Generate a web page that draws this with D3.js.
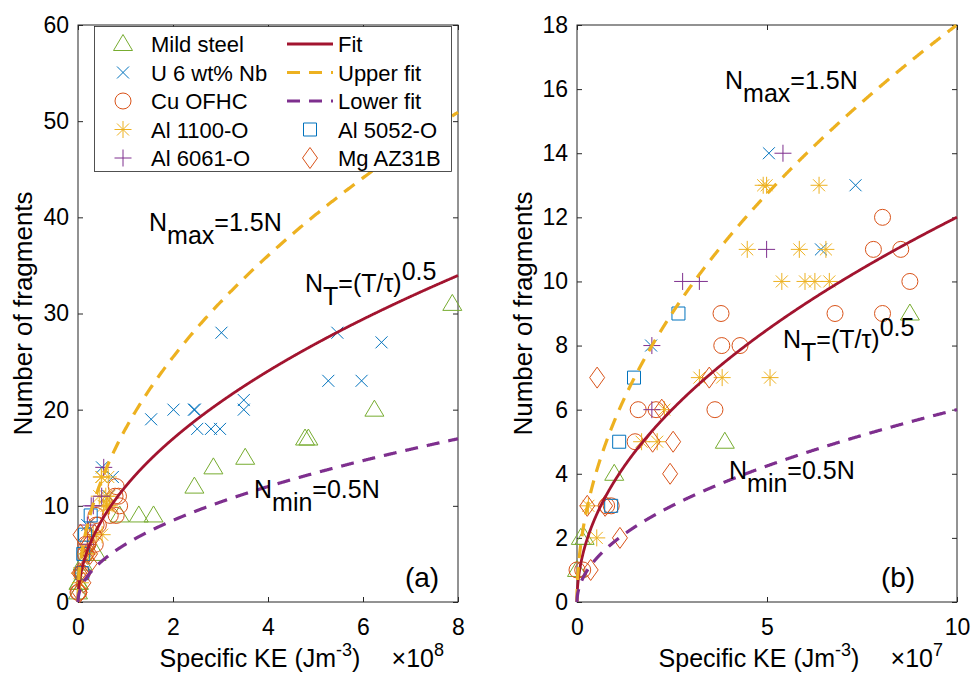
<!DOCTYPE html>
<html>
<head>
<meta http-equiv="Content-Type" content="text/html;charset=utf-8">
<title>fragments vs specific KE</title>
<script src="https://cdn.jsdelivr.net/npm/d3@7"></script>
<style>
body { margin: 0; background: #fff; }
text { font-family: "Liberation Sans", Arial, Helvetica, sans-serif; fill: #000; }
</style>
</head>
<body>
<svg id="chart" width="979" height="682"></svg>
<script>
// specific KE in units of 1e7 J/m^3, number of fragments
var mildX = [0.0, 0.1, 0.2, 0.98, 3.89, 8.76, 12.8, 15.9, 24.5, 28.5, 35.2, 47.8, 48.5, 62.4, 78.8];
var mildN = [1, 2, 2, 4, 5, 9, 9, 9, 12, 14, 15, 17, 17, 20, 31];
var u6X = [1.95, 5.05, 6.42, 7.33, 15.4, 20.1, 24.4, 24.6, 25.1, 28.0, 29.9, 30.2, 34.9, 34.9, 52.7, 54.6, 59.7, 63.9];
var u6N = [8, 14, 11, 13, 19, 20, 20, 20, 18, 18, 18, 28, 21, 20, 23, 28, 23, 27];
var cuX = [0.0, 0.15, 0.78, 0.9, 1.53, 1.61, 2.08, 3.63, 3.81, 4.29, 3.79, 6.79, 8.04, 8.76, 7.8, 8.52, 8.04];
var cuN = [1, 1, 3, 3, 5, 6, 6, 6, 8, 8, 9, 9, 9, 10, 11, 11, 12];
var al1100X = [0.3, 0.52, 1.7, 2.11, 2.3, 3.22, 3.82, 5.08, 5.39, 6.0, 6.26, 6.64, 4.48, 5.85, 6.55, 4.9, 4.99, 6.37];
var al1100N = [3, 2, 5, 5, 6, 7, 7, 7, 10, 10, 10, 10, 11, 11, 11, 13, 13, 13];
var al6061X = [1.97, 1.97, 2.78, 3.22, 4.99, 5.42];
var al6061N = [6, 8, 10, 10, 11, 14];
var al5052X = [0.9, 1.11, 1.5, 2.67];
var al5052N = [3, 5, 7, 9];
var mgX = [0.36, 0.27, 0.74, 1.13, 2.45, 1.99, 2.53, 2.23, 0.53, 3.48];
var mgN = [1, 3, 3, 2, 4, 5, 5, 6, 7, 7];

// fit N_T = (T/tau)^0.5, tau in the same 1e7 J/m^3 units
var tau = 0.0694;
var upperK = 1.5, lowerK = 0.5;

var leftXTicks = [0, 20, 40, 60, 80];
var leftYTicks = [0, 10, 20, 30, 40, 50, 60];
var rightXTicks = [0, 5, 10];
var rightYTicks = [0, 2, 4, 6, 8, 10, 12, 14, 16, 18];

var series = [
  {name: "Mild steel", xs: mildX, ns: mildN, shape: "tri", color: "#77AC30"},
  {name: "U 6 wt% Nb", xs: u6X, ns: u6N, shape: "x", color: "#0072BD"},
  {name: "Cu OFHC", xs: cuX, ns: cuN, shape: "circle", color: "#D95319"},
  {name: "Al 1100-O", xs: al1100X, ns: al1100N, shape: "star", color: "#EDB120"},
  {name: "Al 6061-O", xs: al6061X, ns: al6061N, shape: "plus", color: "#7E2F8E"},
  {name: "Al 5052-O", xs: al5052X, ns: al5052N, shape: "square", color: "#0072BD"},
  {name: "Mg AZ31B", xs: mgX, ns: mgN, shape: "diamond", color: "#D95319"}
];

var svg = d3.select("#chart");

function markerPath(shape) {
  switch (shape) {
    case "tri": return "M0,-9.5L9.5,6.5L-9.5,6.5Z";
    case "x": return "M-6,-6L6,6M-6,6L6,-6";
    case "circle": return "M8,0A8,8 0 1,1 -8,0A8,8 0 1,1 8,0Z";
    case "star": return "M0,-8.5V8.5M-8.5,0H8.5M-6,-6L6,6M-6,6L6,-6";
    case "plus": return "M0,-8.5V8.5M-8.5,0H8.5";
    case "square": return "M-6.5,-6.5H6.5V6.5H-6.5Z";
    case "diamond": return "M0,-10.5L7.5,0L0,10.5L-7.5,0Z";
  }
}

function drawPanel(opt) {
  var x = d3.scaleLinear().domain(opt.xDomain).range([opt.left, opt.right]);
  var y = d3.scaleLinear().domain(opt.yDomain).range([opt.bottom, opt.top]);
  var g = svg.append("g");
  var clipId = "clip" + opt.id;
  svg.append("clipPath").attr("id", clipId).append("rect")
    .attr("x", opt.left - 12).attr("y", opt.top - 12)
    .attr("width", opt.right - opt.left + 24).attr("height", opt.bottom - opt.top + 24);

  // ticks (inside, mirrored)
  var tl = 5;
  var axB = g.append("g").attr("transform", "translate(0," + opt.bottom + ")")
    .call(d3.axisBottom(x).tickValues(opt.xTicks).tickSize(-tl).tickPadding(17).tickFormat(opt.xFmt));
  var axT = g.append("g").attr("transform", "translate(0," + opt.top + ")")
    .call(d3.axisTop(x).tickValues(opt.xTicks).tickSize(-tl).tickFormat(""));
  var axL = g.append("g").attr("transform", "translate(" + opt.left + ",0)")
    .call(d3.axisLeft(y).tickValues(opt.yTicks).tickSize(-tl).tickPadding(9));
  var axR = g.append("g").attr("transform", "translate(" + opt.right + ",0)")
    .call(d3.axisRight(y).tickValues(opt.yTicks).tickSize(-tl).tickFormat(""));
  [axB, axT, axL, axR].forEach(function(a) {
    a.select(".domain").remove();
    a.selectAll(".tick line").attr("stroke", "#262626").attr("stroke-width", 1);
    a.selectAll("text").style("font-size", "23px").attr("fill", "#000");
  });
  g.append("rect").attr("x", opt.left).attr("y", opt.top)
    .attr("width", opt.right - opt.left).attr("height", opt.bottom - opt.top)
    .attr("fill", "none").attr("stroke", "#262626").attr("stroke-width", 1);

  // markers
  var mg = g.append("g").attr("clip-path", "url(#" + clipId + ")");
  series.forEach(function(s) {
    var pts = s.xs.map(function(v, i) { return [v, s.ns[i]]; })
      .filter(function(p) { return p[0] <= opt.xDomain[1]; });
    mg.selectAll(null).data(pts).enter().append("path")
      .attr("d", markerPath(s.shape))
      .attr("transform", function(p) { return "translate(" + x(p[0]) + "," + y(p[1]) + ")"; })
      .attr("fill", "none").attr("stroke", s.color).attr("stroke-width", 1);
  });

  // fit curves
  var xs = d3.range(0, 1001).map(function(i) { return opt.xDomain[1] * Math.pow(i / 1000, 2); });
  var curves = [
    {k: 1, color: "#A2142F", dash: null, w: 2.8},
    {k: upperK, color: "#EDB120", dash: "13,9", w: 3.2},
    {k: lowerK, color: "#7E2F8E", dash: "13,9", w: 3.2}
  ];
  var lg = g.append("g").attr("clip-path", "url(#" + clipId + ")");
  curves.forEach(function(c) {
    var line = d3.line()
      .x(function(v) { return x(v); })
      .y(function(v) { return y(c.k * Math.sqrt(v / tau)); });
    var pts = xs.filter(function(v) { return c.k * Math.sqrt(v / tau) <= opt.yDomain[1]; });
    lg.append("path").datum(pts).attr("d", line)
      .attr("fill", "none").attr("stroke", c.color).attr("stroke-width", c.w)
      .attr("stroke-dasharray", c.dash);
  });

  // axis titles
  var mid = (opt.left + opt.right) / 2;
  var xl = g.append("text").attr("x", mid - 8).attr("y", 667).attr("text-anchor", "middle")
    .style("font-size", "25px");
  xl.append("tspan").text("Specific KE (Jm");
  xl.append("tspan").attr("dy", -11).style("font-size", "18px").text("-3");
  xl.append("tspan").attr("dy", 11).text(")");
  var xm = g.append("text").attr("x", opt.right - 14).attr("y", 667).attr("text-anchor", "end")
    .style("font-size", "25px");
  xm.append("tspan").text("\u00d710");
  xm.append("tspan").attr("dy", -11).style("font-size", "18px").text(opt.exp);

  g.append("text").attr("transform", "translate(" + opt.yLabelX + "," + ((opt.top + opt.bottom) / 2) + ") rotate(-90)")
    .attr("text-anchor", "middle").style("font-size", "26px").text("Number of fragments");

  g.append("text").attr("x", opt.tagX).attr("y", 587).attr("text-anchor", "middle")
    .style("font-size", "28px").text(opt.tag);

  return {x: x, y: y, g: g};
}

function subText(g, px, py, main, sub, rest, sup) {
  var t = g.append("text").attr("x", px).attr("y", py).style("font-size", "25px");
  t.append("tspan").text(main);
  t.append("tspan").attr("dy", 13).text(sub);
  t.append("tspan").attr("dy", -13).text(rest);
  if (sup) t.append("tspan").attr("dy", -12).text(sup);
}

var L = drawPanel({id: "a", left: 78, right: 458, top: 25, bottom: 602,
  xDomain: [0, 80], yDomain: [0, 60], xTicks: leftXTicks, yTicks: leftYTicks,
  xFmt: function(d) { return d / 10; }, exp: "8",
  yLabelX: 32, tag: "(a)", tagX: 422});
var R = drawPanel({id: "b", left: 577, right: 957, top: 25, bottom: 602,
  xDomain: [0, 10], yDomain: [0, 18], xTicks: rightXTicks, yTicks: rightYTicks,
  xFmt: function(d) { return d; }, exp: "7",
  yLabelX: 532, tag: "(b)", tagX: 898});

subText(L.g, 149, 231, "N", "max", "=1.5N");
subText(L.g, 305, 292, "N", "T", "=(T/\u03c4)", "0.5");
subText(L.g, 254, 498, "N", "min", "=0.5N");
subText(R.g, 725, 89, "N", "max", "=1.5N");
subText(R.g, 783, 348, "N", "T", "=(T/\u03c4)", "0.5");
subText(R.g, 729, 479, "N", "min", "=0.5N");

// legend
var leg = svg.append("g");
leg.append("rect").attr("x", 94.5).attr("y", 26.5).attr("width", 357).attr("height", 145)
  .attr("fill", "#fff").attr("stroke", "#262626").attr("stroke-width", 0.8);
var rowY = [44, 72.5, 101, 129.5, 158];
var col1 = series.slice(0, 5);
col1.forEach(function(s, i) {
  leg.append("path").attr("d", markerPath(s.shape))
    .attr("transform", "translate(123," + rowY[i] + ")")
    .attr("fill", "none").attr("stroke", s.color).attr("stroke-width", 1);
  leg.append("text").attr("x", 151).attr("y", rowY[i] + 8).style("font-size", "22px").text(s.name);
});
var lineEntries = [
  {name: "Fit", color: "#A2142F", dash: null},
  {name: "Upper fit", color: "#EDB120", dash: "13,9"},
  {name: "Lower fit", color: "#7E2F8E", dash: "13,9"}
];
lineEntries.forEach(function(e, i) {
  leg.append("line").attr("x1", 287).attr("x2", 333).attr("y1", rowY[i]).attr("y2", rowY[i])
    .attr("stroke", e.color).attr("stroke-width", 3).attr("stroke-dasharray", e.dash);
  leg.append("text").attr("x", 338).attr("y", rowY[i] + 8).style("font-size", "22px").text(e.name);
});
series.slice(5).forEach(function(s, i) {
  leg.append("path").attr("d", markerPath(s.shape))
    .attr("transform", "translate(310," + rowY[i + 3] + ")")
    .attr("fill", "none").attr("stroke", s.color).attr("stroke-width", 1);
  leg.append("text").attr("x", 338).attr("y", rowY[i + 3] + 8).style("font-size", "22px").text(s.name);
});
</script>
</body>
</html>
